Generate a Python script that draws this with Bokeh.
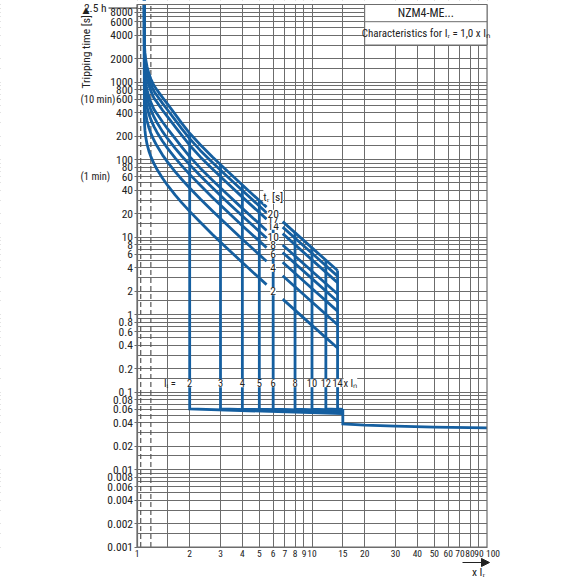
import math
from bokeh.plotting import figure
from bokeh.models import FixedTicker, CustomJSTickFormatter, Label, Arrow, NormalHead
from bokeh.embed import file_html
from bokeh.resources import INLINE

# ---------------- data ----------------
tr_values = [2, 4, 6, 8, 10, 14, 17, 20]

left_x = [1.1, 1.102, 1.105, 1.11, 1.12, 1.14, 1.17, 1.2, 1.25, 1.3, 1.4, 1.5,
          1.65, 1.8, 2.0, 2.3, 2.7, 3.2, 4.0, 5.0, 5.5]
left_t_2 = [20000, 334, 280, 239, 199, 159, 128, 109, 88.6, 74.9, 57.2, 45.9,
            35.0, 27.8, 21.4, 15.5, 10.8, 7.49, 4.68, 2.95, 2.43]
left_t_4 = [20000, 669, 560, 479, 398, 318, 256, 218, 177, 150, 114, 91.8,
            69.9, 55.6, 42.9, 30.9, 21.6, 15.0, 9.35, 5.90, 4.86]
left_t_6 = [20000, 1003, 840, 718, 596, 477, 384, 327, 266, 225, 172, 138,
            105, 83.5, 64.3, 46.4, 32.4, 22.5, 14.0, 8.86, 7.29]
left_t_8 = [20000, 1338, 1120, 957, 795, 636, 512, 437, 354, 300, 229, 184,
            140, 111, 85.8, 61.8, 43.2, 29.9, 18.7, 11.8, 9.72]
left_t_10 = [20000, 1672, 1400, 1196, 994, 796, 641, 546, 443, 390, 305, 246,
             187, 146, 109, 77.3, 54.0, 37.4, 23.4, 14.8, 12.1]
left_t_14 = [20000, 2341, 1960, 1675, 1392, 1114, 897, 764, 620, 550, 432, 352,
             266, 206, 153, 108, 75.6, 52.4, 32.7, 20.7, 17.0]
left_t_17 = [20000, 2842, 2381, 2034, 1690, 1352, 1089, 928, 760, 670, 530, 432,
             325, 250, 186, 131, 91.8, 63.6, 39.8, 25.1, 20.6]
left_t_20 = [20000, 3344, 2801, 2392, 1988, 1591, 1281, 1091, 900, 790, 630, 515,
             385, 295, 218, 155, 108, 74.9, 46.8, 29.5, 24.3]

right_x = [6.8, 10, 14]
right_t_2 = [1.58, 0.724, 0.369]
right_t_4 = [3.16, 1.45, 0.737]
right_t_6 = [4.73, 2.17, 1.105]
right_t_8 = [6.31, 2.90, 1.47]
right_t_10 = [7.89, 3.62, 1.84]
right_t_14 = [11.05, 5.07, 2.58]
right_t_17 = [13.4, 6.16, 3.13]
right_t_20 = [15.8, 7.24, 3.69]

left_curves = [left_t_2, left_t_4, left_t_6, left_t_8, left_t_10, left_t_14, left_t_17, left_t_20]
right_curves = [right_t_2, right_t_4, right_t_6, right_t_8, right_t_10, right_t_14, right_t_17, right_t_20]

# instantaneous release settings Ii
inst_x = [2, 3, 4, 5, 6, 8, 10, 12, 14]
inst_top = [214, 86, 47, 29.5, 20.3, 11.4, 7.24, 5.02, 3.69]
inst_low = [0.0605, 0.0605, 0.0603, 0.0602, 0.0602, 0.0602, 0.0603, 0.0605, 0.0605]
inst_end_x = 15
inst_end_t = [0.0525, 0.054, 0.055, 0.0555, 0.056, 0.057, 0.058, 0.059, 0.0595]

tail_x = [15, 15, 20, 30, 50, 100]
tail_t = [0.0605, 0.0387, 0.0373, 0.0362, 0.0352, 0.0344]

# ticks
x_label_ticks = [1, 2, 3, 4, 5, 6, 7, 8, 9, 10, 15, 20, 30, 40, 50, 60, 70, 80, 90, 100]
x_grid_ticks = [1, 1.5, 2, 3, 4, 5, 6, 7, 8, 9, 10, 15, 20, 30, 40, 50, 60, 70, 80, 90, 100]
y_label_ticks = [0.001, 0.002, 0.004, 0.006, 0.008, 0.01, 0.02, 0.04, 0.06, 0.08,
                 0.1, 0.2, 0.4, 0.6, 0.8, 1, 2, 4, 6, 8, 10, 20, 40, 60, 80,
                 100, 200, 400, 600, 800, 1000, 2000, 4000, 6000, 8000]
y_grid_mantissa = [1, 1.5, 2, 3, 4, 5, 6, 7, 8, 9]
y_grid_decades = [0.001, 0.01, 0.1, 1, 10, 100, 1000]
dashed_x = [1.05, 1.2]
chart_x = (1, 100)
chart_t = (0.001, 10000)
two_half_hours = 9000
minute_marks = [60, 600]
minute_texts = ["(1 min)", "(10 min)"]

# annotation positions / text
tr_label_x = 6
tr_title_t = 33
ii_label_t = 0.13
title_box_x = [20, 100]
title_box_t = [3000, 6000, 10000]

# ---------------- layout (pixel targets on the 578 px canvas) ----------------
W = H = 578
X0_PX, DEC_X = 136.5, 175.0       # pixel of x = 1, pixels per decade
YTOP_PX, DEC_Y = 4.0, 77.5        # pixel of t = 10000, pixels per decade


def px_to_x(px):
    return 10 ** ((px - X0_PX) / DEC_X)


def px_to_t(py):
    return 10 ** (4 - (py - YTOP_PX) / DEC_Y)


FONT = "Roboto Condensed, Roboto"
BLUE = "#155fa0"
GRID = "#6c6c6c"
TXT = "#222222"

p = figure(width=W, height=H, x_axis_type="log", y_axis_type="log",
           x_range=(px_to_x(0), px_to_x(W)), y_range=(px_to_t(H), px_to_t(0)),
           output_backend="svg", toolbar_location=None, min_border=0)
p.outline_line_color = None
p.background_fill_color = "white"
p.border_fill_color = "white"

y_grid_ticks = [m * d for d in y_grid_decades for m in y_grid_mantissa] + [10000]
p.xgrid.ticker = FixedTicker(ticks=x_grid_ticks)
p.ygrid.ticker = FixedTicker(ticks=y_grid_ticks)
for g in (p.xgrid, p.ygrid):
    g.grid_line_color = GRID
    g.grid_line_width = 1
    g.grid_line_alpha = 1.0

last_x = x_label_ticks[-1]
p.xaxis.formatter = CustomJSTickFormatter(
    code=f"return tick == {last_x} ? '' : String(tick);")
p.yaxis.formatter = CustomJSTickFormatter(code="return String(tick);")
p.xaxis.ticker = FixedTicker(ticks=x_label_ticks)
p.yaxis.ticker = FixedTicker(ticks=y_label_ticks)
p.yaxis.fixed_location = chart_x[0]
p.yaxis.bounds = chart_t
p.xaxis.fixed_location = chart_t[0]
p.xaxis.bounds = chart_x
for ax in (p.xaxis, p.yaxis):
    ax.axis_line_color = GRID
    ax.axis_line_width = 1.2
    ax.major_tick_line_color = GRID
    ax.minor_tick_line_color = None
    ax.major_tick_in = 0
    ax.major_label_text_font = FONT
    ax.major_label_text_color = TXT
p.yaxis.major_label_text_font_size = "11.5px"
p.xaxis.major_label_text_font_size = "9.5px"
p.yaxis.major_tick_out = 3
p.yaxis.major_label_standoff = 1
p.xaxis.major_tick_out = 0
p.xaxis.major_label_standoff = 3

# dashed lines at 1.05 and 1.2 x Ir
for xd in dashed_x:
    p.line([xd, xd], list(chart_t), line_color="#555555", line_width=1.2, line_dash="5 3")

# long-time curves
for lt, rt in zip(left_curves, right_curves):
    p.line(left_x, lt, line_color=BLUE, line_width=2.8, line_join="round")
    p.line(right_x, rt, line_color=BLUE, line_width=2.8, line_join="round")

# instantaneous lines
for xi, top, low, end in zip(inst_x, inst_top, inst_low, inst_end_t):
    p.line([xi, xi, inst_end_x], [top, low, end], line_color=BLUE, line_width=2.8,
           line_join="miter")
p.line(tail_x, tail_t, line_color=BLUE, line_width=2.8, line_join="miter")

# white covers outside the chart rectangle (hide grid/curve overflow)
xl, xh = px_to_x(0), px_to_x(W)
tl, th = px_to_t(H), px_to_t(0)
p.quad(left=[xl, chart_x[1], chart_x[0], chart_x[0]],
       right=[chart_x[0], xh, chart_x[1], chart_x[1]],
       bottom=[tl, tl, chart_t[1], tl],
       top=[th, th, th, chart_t[0]],
       fill_color="white", line_color=None)
# chart border
p.quad(left=[chart_x[0]], right=[chart_x[1]], bottom=[chart_t[0]], top=[chart_t[1]],
       fill_color=None, line_color=GRID, line_width=1.2)

# title box
p.quad(left=[title_box_x[0]], right=[title_box_x[1]], bottom=[title_box_t[0]],
       top=[title_box_t[2]], fill_color="white", line_color=GRID, line_width=1)
p.line(title_box_x, [title_box_t[1], title_box_t[1]], line_color=GRID, line_width=1)
gx = math.sqrt(title_box_x[0] * title_box_x[1])
p.add_layout(Label(x=gx, y=math.sqrt(title_box_t[1] * title_box_t[2]), text="NZM4-ME...",
                   text_align="center", text_baseline="middle", text_font=FONT,
                   text_font_size="12px", text_color=TXT))
p.add_layout(Label(x=gx, y=math.sqrt(title_box_t[0] * title_box_t[1]),
                   text="Characteristics for Iᵣ = 1,0 x Iₙ",
                   text_align="center", text_baseline="middle", text_font=FONT,
                   text_font_size="11px", text_color=TXT))

# tr labels
p.add_layout(Label(x=tr_label_x, y=tr_title_t, text="tᵣ [s]", text_align="center",
                   text_baseline="middle", text_font=FONT, text_font_size="11.5px",
                   text_color=TXT, background_fill_color="white"))
for v in tr_values:
    p.add_layout(Label(x=tr_label_x, y=v, text=str(v), text_align="center",
                       text_baseline="middle", text_font=FONT, text_font_size="11.5px",
                       text_color=TXT, background_fill_color="white"))

# Ii labels
p.add_layout(Label(x=1.54, y=ii_label_t, text="Iᵢ =", text_align="center",
                   text_baseline="middle", text_font=FONT, text_font_size="10.5px",
                   text_color=TXT))
for xi in inst_x:
    p.add_layout(Label(x=xi, y=ii_label_t, text=str(xi), text_align="center",
                       text_baseline="middle", text_font=FONT, text_font_size="10.5px",
                       text_color=TXT, background_fill_color="white"))
p.add_layout(Label(x=inst_x[-1], y=ii_label_t, x_offset=6, text="x Iₙ", text_align="left",
                   text_baseline="middle", text_font=FONT, text_font_size="10.5px",
                   text_color=TXT, background_fill_color="white"))

# left-side annotations
p.add_layout(Label(x=px_to_x(85.5), y=px_to_t(88), text="Tripping time [s]",
                   angle=math.pi / 2, text_align="left", text_baseline="middle",
                   text_font=FONT, text_font_size="11.5px", text_color=TXT))
p.add_layout(Label(x=px_to_x(85.5), y=px_to_t(9.5), text="▲", text_align="center",
                   text_baseline="middle", text_font="DejaVu Sans", text_font_size="9px",
                   text_color=TXT))
p.add_layout(Label(x=px_to_x(106), y=two_half_hours, text="2.5 h", text_align="right",
                   text_baseline="middle", text_font=FONT, text_font_size="11.5px",
                   text_color=TXT))
p.add_layout(Arrow(end=None, x_start=px_to_x(108), y_start=two_half_hours,
                   x_end=chart_x[0], y_end=two_half_hours, line_color=TXT, line_width=1))
for mt, txt in zip(minute_marks, minute_texts):
    p.add_layout(Label(x=px_to_x(80), y=mt, text=txt, text_align="left",
                       text_baseline="middle", text_font=FONT, text_font_size="10.5px",
                       text_color=TXT))

# last x tick label, nudged right as in the reference
p.add_layout(Label(x=last_x, y=chart_t[0], x_offset=6, y_offset=-3, text=str(last_x),
                   text_align="center", text_baseline="top", text_font=FONT,
                   text_font_size="9.5px", text_color=TXT))

# x axis annotation
p.add_layout(Arrow(end=NormalHead(size=8, fill_color=TXT, line_color=TXT),
                   x_start=px_to_x(462), y_start=px_to_t(562),
                   x_end=px_to_x(489), y_end=px_to_t(562),
                   line_color=TXT, line_width=1))
p.add_layout(Label(x=px_to_x(478), y=px_to_t(571), text="x Iᵣ", text_align="center",
                   text_baseline="middle", text_font=FONT, text_font_size="11.5px",
                   text_color=TXT))

open("out.html", "w").write(file_html(p, INLINE))
